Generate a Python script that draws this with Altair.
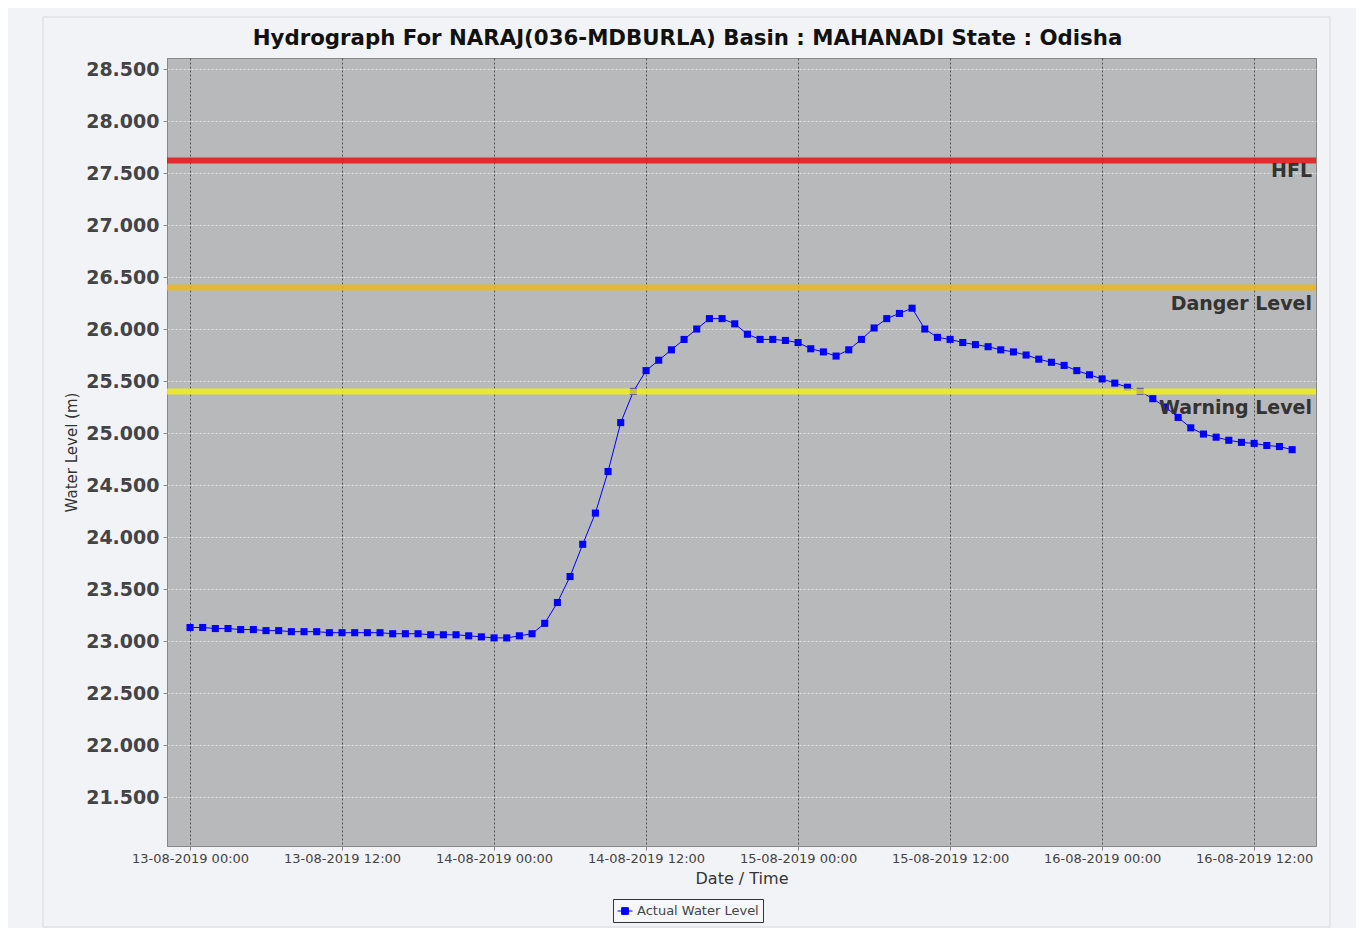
import altair as alt
import pandas as pd

# ---- data ----
levels = [
    23.13, 23.13, 23.12, 23.12, 23.11, 23.11, 23.10, 23.10, 23.09, 23.09,
    23.09, 23.08, 23.08, 23.08, 23.08, 23.08, 23.07, 23.07, 23.07, 23.06,
    23.06, 23.06, 23.05, 23.04, 23.03, 23.03, 23.05, 23.07, 23.17, 23.37,
    23.62, 23.93, 24.23, 24.63, 25.10, 25.40, 25.60, 25.70, 25.80, 25.90,
    26.00, 26.10, 26.10, 26.05, 25.95, 25.90, 25.90, 25.89, 25.87, 25.81,
    25.78, 25.74, 25.80, 25.90, 26.01, 26.10, 26.15, 26.20, 26.00, 25.92,
    25.90, 25.87, 25.85, 25.83, 25.80, 25.78, 25.75, 25.71, 25.68, 25.65,
    25.60, 25.56, 25.52, 25.48, 25.44, 25.40, 25.33, 25.25, 25.15, 25.05,
    24.99, 24.96, 24.93, 24.91, 24.90, 24.88, 24.87, 24.84,
]
times = pd.date_range("2019-08-13 00:00", periods=len(levels), freq="h").strftime("%Y-%m-%dT%H:%M:%SZ").tolist()
series_name = "Actual Water Level"

threshold_names = ["HFL", "Danger Level", "Warning Level"]
threshold_values = [27.62, 26.40, 25.40]
threshold_colors = ["#eb0a0a", "#ecb912", "#f4f40d"]

tick_times = [(13, 0), (13, 12), (14, 0), (14, 12), (15, 0), (15, 12), (16, 0), (16, 12)]
y_ticks = [21.5 + 0.5 * i for i in range(15)]

W, H = 1149, 788
FONT = "DejaVu Sans"

df = pd.DataFrame({"time": times, "level": levels, "series": series_name})
th = pd.DataFrame({"name": threshold_names, "value": threshold_values})

x_scale = alt.Scale(
    type="utc",
    domain=[
        alt.DateTime(year=2019, month=8, date=12, hours=22, minutes=11, utc=True),
        alt.DateTime(year=2019, month=8, date=16, hours=16, minutes=53, utc=True),
    ],
    nice=False,
)
y_scale = alt.Scale(domain=[21.029, 28.606], nice=False, zero=False)

x_axis = alt.Axis(
    values=[alt.DateTime(year=2019, month=8, date=d, hours=h, utc=True) for d, h in tick_times],
    labelExpr="utcFormat(datum.value, '%d-%m-%Y %H:%M')",
    grid=True, gridColor="#555555", gridDash=[2, 2], gridWidth=1,
    labelFont=FONT, labelFontSize=13, labelColor="#444444", labelPadding=2,
    tickColor="#888888", tickSize=4, domainColor="#888888",
    title="Date / Time", titleFont=FONT, titleFontSize=16, titleFontWeight="normal",
    titleColor="#333333", titlePadding=5, labelFlush=False, labelOverlap=False,
)
y_axis = alt.Axis(
    values=y_ticks, format=".3f",
    grid=True, gridColor="#e2e2e2", gridDash=[2, 2], gridWidth=1,
    labelFont=FONT, labelFontSize=19, labelFontWeight="bold", labelColor="#444444",
    labelPadding=4, tickColor="#888888", tickSize=4, domainColor="#888888",
    title="Water Level (m)", titleFont=FONT, titleFontSize=15, titleFontWeight="normal",
    titleColor="#333333", titlePadding=6,
)

legend_symbol = "M-1,0L1,0M-0.45,-0.45L0.45,-0.45L0.45,0.45L-0.45,0.45Z"
legend = alt.Legend(
    orient="none", legendX=446, legendY=841, title=None,
    strokeColor="#333333", fillColor="#f5f7fa", padding=4, cornerRadius=0,
    labelFont=FONT, labelFontSize=13, labelColor="#444444", labelOffset=4,
    symbolType=legend_symbol, symbolSize=225, symbolStrokeWidth=1,
    symbolStrokeColor="#0000ff", symbolFillColor="#0000ff",
)
color = alt.Color("series:N", scale=alt.Scale(domain=[series_name], range=["#0000ff"]), legend=legend)

frame = alt.Chart(pd.DataFrame({"k": [0]})).mark_rect(
    fill=None, stroke="#d6d9dd", strokeWidth=1
).encode(x=alt.value(-124), x2=alt.value(1163), y=alt.value(-41), y2=alt.value(869))

base = alt.Chart(df).encode(
    x=alt.X("time:T", scale=x_scale, axis=x_axis),
    y=alt.Y("level:Q", scale=y_scale, axis=y_axis),
    color=color,
)
line = base.mark_line(strokeWidth=1)
points = base.mark_point(shape="square", filled=True, size=50, opacity=1)

rules = alt.Chart(th).mark_rule(strokeWidth=6, opacity=0.8).encode(
    y=alt.Y("value:Q", scale=y_scale),
    stroke=alt.Stroke("name:N", scale=alt.Scale(domain=threshold_names, range=threshold_colors), legend=None),
)

text_style = dict(align="right", baseline="alphabetic", dx=-4, fontSize=19, fontWeight="bold",
                  font=FONT, color="#333333")
hfl_text = alt.Chart(th).transform_filter(alt.datum.name == "HFL").mark_text(dy=16, **text_style).encode(
    x=alt.value(W), y=alt.Y("value:Q", scale=y_scale), text="name:N")
other_text = alt.Chart(th).transform_filter(alt.datum.name != "HFL").mark_text(dy=23, **text_style).encode(
    x=alt.value(W), y=alt.Y("value:Q", scale=y_scale), text="name:N")

chart = alt.layer(frame, line, points, rules, hfl_text, other_text).properties(
    width=W, height=H,
    title=alt.TitleParams(
        "Hydrograph For NARAJ(036-MDBURLA) Basin : MAHANADI State : Odisha",
        font=FONT, fontSize=21.3, fontWeight="bold", color="#111111",
        anchor="middle", frame="group", dx=-54, dy=61, offset=11, baseline="alphabetic",
    ),
    autosize=alt.AutoSizeParams(type="none"),
    padding={"left": 159, "top": 50, "right": 40, "bottom": 82},
    background="#f1f3f6",
).configure_view(fill="#b8b9bb", stroke="#888888", strokeWidth=1)

chart.save("out.html", embed_options={"renderer": "svg", "actions": False})
